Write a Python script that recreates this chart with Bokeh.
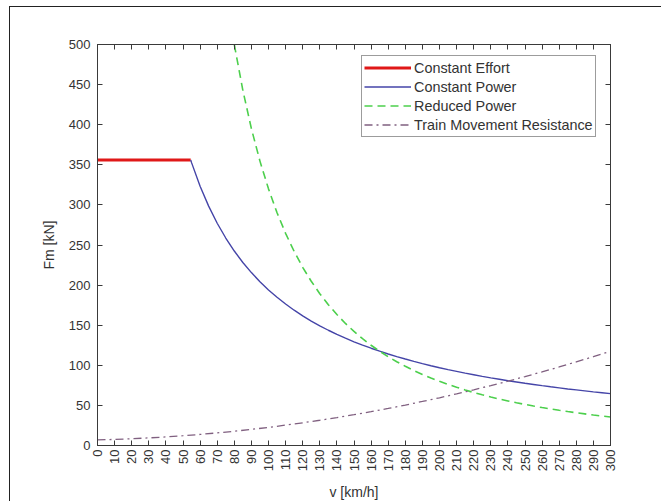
import math
from bokeh.plotting import figure
from bokeh.models import LinearAxis, Range1d, FixedTicker, Legend, LegendItem
from bokeh.embed import file_html
from bokeh.resources import INLINE

# ---- data ----
x_ticks = [0, 10, 20, 30, 40, 50, 60, 70, 80, 90, 100, 110, 120, 130, 140, 150,
           160, 170, 180, 190, 200, 210, 220, 230, 240, 250, 260, 270, 280, 290, 300]
y_ticks = [0, 50, 100, 150, 200, 250, 300, 350, 400, 450, 500]

effort_v = [0, 54.5]
effort_f = [356, 356]

power_v = [54.5, 55, 60, 65, 70, 75, 80, 85, 90, 95, 100, 105, 110, 115, 120, 125, 130,
           135, 140, 145, 150, 155, 160, 165, 170, 175, 180, 185, 190, 195, 200, 205,
           210, 215, 220, 225, 230, 235, 240, 245, 250, 255, 260, 265, 270, 275, 280,
           285, 290, 295, 300]
power_f = [356, 352.7, 323.3, 298.5, 277.1, 258.7, 242.5, 228.2, 215.6, 204.2, 194.0,
           184.8, 176.4, 168.7, 161.7, 155.2, 149.2, 143.7, 138.6, 133.8, 129.3, 125.2,
           121.3, 117.6, 114.1, 110.9, 107.8, 104.9, 102.1, 99.5, 97.0, 94.6, 92.4, 90.2,
           88.2, 86.2, 84.3, 82.6, 80.8, 79.2, 77.6, 76.1, 74.6, 73.2, 71.9, 70.5, 69.3,
           68.1, 66.9, 65.8, 64.7]

reduced_v = [80, 85, 90, 95, 100, 105, 110, 115, 120, 125, 130, 135, 140, 145, 150, 155,
             160, 165, 170, 175, 180, 185, 190, 195, 200, 205, 210, 215, 220, 225, 230,
             235, 240, 245, 250, 255, 260, 265, 270, 275, 280, 285, 290, 295, 300]
reduced_f = [500, 442.9, 395.1, 354.6, 320.0, 290.2, 264.5, 242.0, 222.2, 204.8, 189.3,
             175.6, 163.3, 152.2, 142.2, 133.2, 125.0, 117.5, 110.7, 104.5, 98.8, 93.5,
             88.6, 84.2, 80.0, 76.1, 72.6, 69.2, 66.1, 63.2, 60.5, 57.9, 55.6, 53.3, 51.2,
             49.2, 47.3, 45.6, 43.9, 42.3, 40.8, 39.4, 38.0, 36.8, 35.6]

resist_v = [0, 10, 20, 30, 40, 50, 60, 70, 80, 90, 100, 110, 120, 130, 140, 150, 160,
            170, 180, 190, 200, 210, 220, 230, 240, 250, 260, 270, 280, 290, 300]
resist_f = [7.0, 7.6, 8.4, 9.5, 10.7, 12.2, 13.8, 15.7, 17.8, 20.1, 22.6, 25.4, 28.3,
            31.5, 34.8, 38.4, 42.2, 46.2, 50.4, 54.9, 59.5, 64.4, 69.4, 74.7, 80.2, 85.9,
            91.8, 97.9, 104.3, 110.8, 117.6]

labels = ["Constant Effort", "Constant Power", "Reduced Power", "Train Movement Resistance"]

# ---- figure ----
AX = "#3a3a3a"
TXT = "#333333"
FONT = "Liberation Sans"

p = figure(frame_width=513, frame_height=401,
           x_range=Range1d(0, 300), y_range=Range1d(0, 500),
           output_backend="svg", toolbar_location=None,
           min_border_left=87, min_border_right=51, min_border_top=37, min_border_bottom=56,
           background_fill_color="white", border_fill_color="white")
# outer picture frame (left and top edges visible in the reference)
p.styles = {"margin-left": "9px", "margin-top": "6px",
            "border-left": "1px solid #222222", "border-top": "1px solid #222222"}
p.grid.visible = False
p.outline_line_color = AX
p.outline_line_width = 1

r1 = p.line(effort_v, effort_f, line_color="#e01818", line_width=3)
r2 = p.line(power_v, power_f, line_color="#4545a8", line_width=1.4)
r3 = p.line(reduced_v, reduced_f, line_color="#4ccf4c", line_width=1.6, line_dash="8 5")
r4 = p.line(resist_v, resist_f, line_color="#806080", line_width=1.3, line_dash="8 4 2 4")

for ax in (p.xaxis[0], p.yaxis[0]):
    ax.axis_line_color = AX
    ax.major_tick_line_color = AX
    ax.major_tick_in = 5
    ax.major_tick_out = 0
    ax.minor_tick_line_color = None
    ax.major_label_text_font = FONT
    ax.major_label_text_font_size = "13px"
    ax.major_label_text_color = TXT
    ax.axis_label_text_font = FONT
    ax.axis_label_text_font_size = "14px"
    ax.axis_label_text_font_style = "normal"
    ax.axis_label_text_color = TXT

p.xaxis.ticker = FixedTicker(ticks=x_ticks)
p.yaxis.ticker = FixedTicker(ticks=y_ticks)
p.xaxis.major_label_orientation = math.pi / 2
p.xaxis.major_label_standoff = 4
p.xaxis.axis_label = "v [km/h]"
p.xaxis.axis_label_standoff = 10
p.yaxis.axis_label = "Fm [kN]"
p.yaxis.major_label_standoff = 7
p.yaxis.axis_label_standoff = 9

top = LinearAxis(ticker=FixedTicker(ticks=x_ticks), axis_line_color=AX,
                 major_tick_line_color=AX, major_tick_in=5, major_tick_out=0,
                 minor_tick_line_color=None, major_label_text_color=None)
right = LinearAxis(ticker=FixedTicker(ticks=y_ticks), axis_line_color=AX,
                   major_tick_line_color=AX, major_tick_in=5, major_tick_out=0,
                   minor_tick_line_color=None, major_label_text_color=None)
p.add_layout(top, "above")
p.add_layout(right, "right")

legend = Legend(items=[LegendItem(label=labels[0], renderers=[r1]),
                       LegendItem(label=labels[1], renderers=[r2]),
                       LegendItem(label=labels[2], renderers=[r3]),
                       LegendItem(label=labels[3], renderers=[r4])],
                location=(264, 308), padding=2, spacing=0,
                glyph_width=47, glyph_height=19, label_height=19, label_standoff=3,
                label_text_font=FONT, label_text_font_size="14.4px", label_text_color=TXT,
                border_line_color=AX, border_line_width=1, background_fill_alpha=1)
p.add_layout(legend, "center")

open("out.html", "w").write(file_html(p, INLINE))
